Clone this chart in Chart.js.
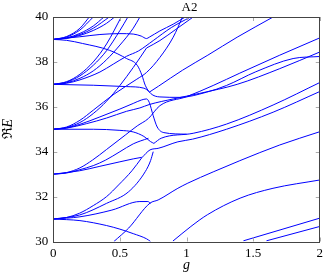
<!DOCTYPE html>
<html>
<head>
<meta charset="utf-8">
<script src="https://cdn.jsdelivr.net/npm/chart.js@4.4.1/dist/chart.umd.min.js"></script>
<style>
  html, body { margin: 0; padding: 0; background: #fff; }
</style>
</head>
<body>
<canvas id="spectrum" width="327" height="276"></canvas>
<script>
// tick values
const gTicks = [0, 0.5, 1, 1.5, 2];
const eTicks = [30, 32, 34, 36, 38, 40];

// curves as [g, Re E] pairs
// fan starting at E = 39
const rise39a = [[0,39],[0.1,39.13],[0.2,39.5],[0.27,40]];
const rise39b = [[0,39],[0.1,39.11],[0.2,39.42],[0.3,40]];
const rise39c = [[0,39],[0.1,39.07],[0.2,39.27],[0.3,39.6],[0.38,40]];
const rise39d = [[0,39],[0.1,39.06],[0.2,39.22],[0.3,39.5],[0.42,40]];
const rise39e = [[0,39],[0.1,39.05],[0.2,39.18],[0.3,39.4],[0.4,39.72],[0.46,40]];
const flat39 = [[0,39],[0.2,39.12],[0.35,39.22],[0.5,39.26],[0.6,39.24],[0.66,39.15],[0.7,39.04],[0.72,39.1],[0.8,39.38],[0.9,39.68],[0.99,40]];
const fall39 = [[0,39],[0.1,38.96],[0.22,38.82],[0.42,38.52],[0.55,38.15],[0.63,37.85],[0.665,37.41],[0.69,36.96],[0.73,36.6],[0.8,36.44],[0.95,36.42],[1.15,36.65],[1.3,36.95],[1.52,37.56],[1.8,38.15],[2,38.24]];

// fan starting at E = 37
const flat37 = [[0,37],[0.3,36.96],[0.55,36.9],[0.68,36.83],[0.72,36.68]];
const rise37a = [[0,37],[0.1,37.12],[0.2,37.45],[0.3,38],[0.4,38.8],[0.51,40]];
const rise37b = [[0,37],[0.1,37.1],[0.2,37.38],[0.3,37.85],[0.4,38.5],[0.5,39.4],[0.56,40]];
const rise37c = [[0,37],[0.1,37.07],[0.2,37.27],[0.3,37.6],[0.4,38.1],[0.5,38.75],[0.6,39.5],[0.65,40]];
const rise37d = [[0,37],[0.1,37.05],[0.2,37.2],[0.35,37.55],[0.45,37.9],[0.55,38.25],[0.64,38.49],[0.75,38.95],[0.886,39.53],[1.03,40]];
const pair37 = [[0.7,38.62],[0.8,38.95],[0.92,39.45],[1.05,40]];
const upper37 = [[0.72,36.65],[0.79,36.92],[0.97,37.63],[1.16,38.3],[1.38,39.1],[1.65,40]];

// fan starting at E = 35
const flat35 = [[0,35],[0.3,35],[0.5,34.95],[0.6,34.88],[0.68,34.68],[0.73,34.45],[0.755,34.37]];
const rise35a = [[0,35],[0.1,35.1],[0.2,35.4],[0.3,35.85],[0.455,36.56],[0.627,37.23],[0.7,37.53],[0.8,38.2],[0.9,39.1],[0.97,40]];
const rise35b = [[0,35],[0.1,35.08],[0.2,35.3],[0.3,35.7],[0.4,36.25],[0.5,36.95],[0.6,37.75],[0.7,38.62]];
const hook35 = [[0,35],[0.1,35.06],[0.2,35.22],[0.35,35.55],[0.5,35.9],[0.6,36.15],[0.66,36.3],[0.7,36.35],[0.72,36.2],[0.75,35.6],[0.78,35.1],[0.83,34.85],[1,34.78]];
const lineB = [[0,35],[0.1,35.05],[0.25,35.25],[0.4,35.5],[0.55,35.8],[0.65,35.95],[0.72,36.1],[0.9,36.35],[1.1,36.6],[1.38,37],[1.7,37.7],[2,38.44]];
const vRight = [[0.755,34.37],[0.81,34.6],[1.05,34.82],[1.3,35.23],[1.65,36.08],[2,37.08]];

// fan starting at E = 33
const hump33 = [[0,33],[0.197,33.15],[0.35,33.35],[0.5,33.55],[0.6,33.68],[0.664,33.75]];
const lineA = [[0,33],[0.1,33.07],[0.2,33.28],[0.295,33.63],[0.4,34.1],[0.54,34.74],[0.63,35.15],[0.714,35.48],[0.8,36.05],[1,36.45],[1.2,36.95],[1.4,37.5],[1.7,38.3],[2,39.07]];
const rise33b = [[0,33],[0.1,33.05],[0.2,33.2],[0.3,33.38],[0.394,33.63],[0.5,34],[0.6,34.35],[0.714,34.6]];
const lineRb = [[0.664,33.73],[0.726,34.08],[0.787,34.15],[0.935,34.44],[1.046,34.56],[1.3,35],[1.65,35.76],[2,36.68]];

// fan starting at E = 31
const fall31 = [[0,31],[0.2,30.93],[0.4,30.71],[0.5,30.55],[0.6,30.35],[0.7,30.12],[0.73,30]];
const hump31 = [[0,31],[0.2,31.1],[0.44,31.4],[0.65,31.78],[0.71,31.78],[0.73,31.7]];
const rise31a = [[0,31],[0.1,31.07],[0.197,31.26],[0.3,31.6],[0.4,32],[0.49,32.52],[0.59,33.15],[0.664,33.73]];
const rise31b = [[0,31],[0.197,31.18],[0.4,31.7],[0.566,32.22],[0.69,33.11],[0.73,33.6],[0.75,34]];
const steep31 = [[0.455,30],[0.566,30.6],[0.726,31.71],[0.787,31.85],[0.935,32.37],[1.01,32.6],[1.2,33.1],[1.4,33.6],[1.7,34.3],[2,34.89]];

// lines entering from below
const lowG = [[0.898,30.02],[1.033,30.67],[1.156,31.19],[1.402,31.93],[1.649,32.37],[2,32.74]];
const lowH = [[1.427,30.03],[2,31.04]];
const lowI = [[1.6,30.03],[2,30.67]];

const curves = [rise39a, rise39b, rise39c, rise39d, rise39e, flat39, fall39,
  flat37, rise37a, rise37b, rise37c, rise37d, pair37, upper37,
  flat35, rise35a, rise35b, hook35, lineB, vRight,
  hump33, lineA, rise33b, lineRb,
  fall31, hump31, rise31a, rise31b, steep31,
  lowG, lowH, lowI];

const serif = "'Liberation Serif', 'DejaVu Serif', serif";
Chart.defaults.font.family = serif;
Chart.defaults.font.size = 13;
Chart.defaults.color = '#000';

// frame, inward ticks and the hand placed labels
const framePlugin = {
  id: 'frame',
  afterDraw(chart) {
    const { ctx, chartArea: a, scales } = chart;
    ctx.save();
    ctx.strokeStyle = '#aaa';
    ctx.lineWidth = 1;
    gTicks.forEach(v => {
      const x = Math.round(scales.x.getPixelForValue(v)) + 0.5;
      ctx.beginPath();
      ctx.moveTo(x, a.bottom); ctx.lineTo(x, a.bottom - 4);
      ctx.moveTo(x, a.top); ctx.lineTo(x, a.top + 4);
      ctx.stroke();
    });
    eTicks.forEach(v => {
      const y = Math.round(scales.y.getPixelForValue(v)) + 0.5;
      ctx.beginPath();
      ctx.moveTo(a.left, y); ctx.lineTo(a.left + 4, y);
      ctx.moveTo(a.right, y); ctx.lineTo(a.right - 4, y);
      ctx.stroke();
    });
    ctx.strokeStyle = '#444';
    ctx.strokeRect(Math.round(a.left) + 0.5, Math.round(a.top) + 0.5,
      Math.round(a.right - a.left), Math.round(a.bottom - a.top));

    ctx.fillStyle = '#000';
    ctx.textAlign = 'center';
    ctx.textBaseline = 'alphabetic';
    ctx.font = '13px ' + serif;
    ctx.fillText('A2', (a.left + a.right) / 2 + 3, 11);
    ctx.font = 'italic 14px ' + serif;
    ctx.fillText('g', (a.left + a.right) / 2, 269);
    ctx.translate(12, (a.top + a.bottom) / 2);
    ctx.rotate(-Math.PI / 2);
    ctx.font = '14px ' + serif;
    ctx.fillText('\u211C', -4, 0);
    ctx.font = 'italic 14px ' + serif;
    ctx.fillText('E', 6, 0);
    ctx.restore();
  }
};

new Chart(document.getElementById('spectrum'), {
  type: 'scatter',
  data: {
    datasets: curves.map(c => ({
      data: c.map(([g, e]) => ({ x: g, y: e })),
      showLine: true,
      pointRadius: 0,
      borderColor: 'rgb(0,0,255)',
      borderWidth: 1,
      cubicInterpolationMode: 'monotone'
    }))
  },
  options: {
    responsive: false,
    animation: false,
    events: [],
    layout: { padding: { top: 17, right: 3, left: 0, bottom: 0 } },
    plugins: { legend: { display: false }, tooltip: { enabled: false } },
    scales: {
      x: {
        type: 'linear', min: 0, max: 2,
        afterFit: s => { s.height = 34.5; },
        afterBuildTicks: s => { s.ticks = gTicks.map(v => ({ value: v })); },
        grid: { display: false, drawTicks: false },
        border: { display: false },
        ticks: { padding: 4, color: '#000', font: { family: serif, size: 13 }, callback: v => String(v) }
      },
      y: {
        type: 'linear', min: 30, max: 40,
        afterFit: s => { s.width = 53.3; },
        afterBuildTicks: s => { s.ticks = eTicks.map(v => ({ value: v })); },
        grid: { display: false, drawTicks: false },
        border: { display: false },
        ticks: { padding: 5, color: '#000', font: { family: serif, size: 13 }, callback: v => String(v) }
      }
    }
  },
  plugins: [framePlugin]
});
</script>
</body>
</html>
